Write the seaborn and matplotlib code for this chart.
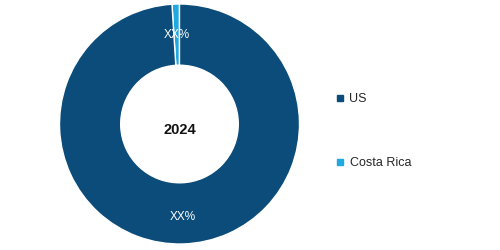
import matplotlib
matplotlib.use("Agg")
import matplotlib.pyplot as plt
from matplotlib.lines import Line2D
import seaborn as sns

categories = ["Costa Rica", "US"]
values = [1.0, 99.0]
labels = ["XX%", "XX%"]
center_label = "2024"
colors = ["#1FA9E1", "#0B4C7A"]

sns.set_style("white")
plt.rcParams["font.family"] = ["Liberation Sans", "DejaVu Sans"]

fig = plt.figure(figsize=(5, 2.5), dpi=100)
ax = fig.add_axes([0.119, 0.024, 0.48, 0.96])
wedges, texts = ax.pie(values, colors=colors, startangle=90, counterclock=True,
                       radius=1.0, wedgeprops=dict(width=0.51, edgecolor="white", linewidth=1.0),
                       labels=labels, labeldistance=0.76,
                       textprops=dict(color="white", fontsize=8.5, ha="center", va="center"))
for t in texts:
    x, y = t.get_position()
    t.set_position((x, y - 0.017))
ax.set_xlim(-1, 1)
ax.set_ylim(-1, 1)
ax.set_aspect("equal")
ax.text(0, -0.05, center_label, ha="center", va="center", fontsize=10.5, fontweight="bold", color="#111111")
ax.axis("off")

order = [1, 0]
handles = [Line2D([0], [0], marker="s", linestyle="", markersize=5,
                  markerfacecolor=colors[i], markeredgecolor=colors[i]) for i in order]
fig.legend(handles, [categories[i] for i in order], loc="center left",
           bbox_to_anchor=(0.644, 0.475), frameon=False, fontsize=9,
           labelspacing=4.2, handletextpad=0.3, handlelength=1.0)

fig.savefig("out.png", dpi=100, facecolor="white")
